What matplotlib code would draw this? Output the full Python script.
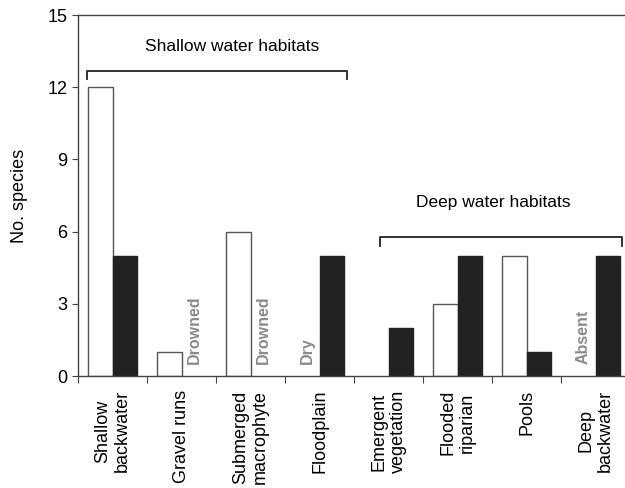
import matplotlib.pyplot as plt
import numpy as np

plt.rcParams['font.family'] = ['Liberation Sans', 'DejaVu Sans']

habitats = ["Shallow\nbackwater", "Gravel runs", "Submerged\nmacrophyte", "Floodplain",
            "Emergent\nvegetation", "Flooded\nriparian", "Pools", "Deep\nbackwater"]
white_vals = [12, 1, 6, 0, 0, 3, 5, 0]
black_vals = [5, 0, 0, 5, 2, 5, 1, 5]
# notes written where a bar is missing: (group index, which bar, text)
notes = [(1, "black", "Drowned"), (2, "black", "Drowned"), (3, "white", "Dry"), (7, "white", "Absent")]
yticks = [0, 3, 6, 9, 12, 15]

fig = plt.figure(figsize=(6.25, 4.88), dpi=100)
ax = fig.add_axes([0.125, 0.2295, 0.8832, 0.7395])

x = np.arange(len(habitats)) + 0.5
w = 0.36
wv = np.array(white_vals)
bv = np.array(black_vals)
ax.bar((x - w / 2)[wv > 0], wv[wv > 0], w, color="white", edgecolor="#555555", linewidth=1)
ax.bar((x + w / 2)[bv > 0], bv[bv > 0], w, color="#222222", edgecolor="#222222", linewidth=1)

for i, side, txt in notes:
    xx = x[i] - w / 2 if side == "white" else x[i] + w / 2
    ax.text(xx, 0.5, txt, rotation=90, ha="center", va="bottom",
            color="#8a8a8a", fontweight="bold", fontsize=11.5)

# group brackets
ax.plot([0.13, 0.13, 3.9, 3.9], [12.33, 12.67, 12.67, 12.33], color="#222222", lw=1.3, clip_on=False)
ax.text(2.23, 13.7, "Shallow water habitats", ha="center", va="center", fontsize=12.5)
ax.plot([4.38, 4.38, 7.88, 7.88], [5.42, 5.79, 5.79, 5.42], color="#222222", lw=1.3, clip_on=False)
ax.text(6.01, 7.2, "Deep water habitats", ha="center", va="center", fontsize=12.5)

ax.set_xlim(0, 8)
ax.set_ylim(0, 15)
ax.set_yticks(yticks)
ax.tick_params(axis="y", labelsize=13, length=4, direction="out", color="#444444")
ax.set_xticks(np.arange(0, 9))
ax.set_xticklabels([])
ax.tick_params(axis="x", which="major", length=5, direction="out", color="#444444")
ax.set_xticks(x, minor=True)
ax.set_xticklabels(habitats, minor=True, rotation=90, fontsize=13, va="top", ha="center")
ax.tick_params(axis="x", which="minor", length=0, pad=10)
for t in ax.get_xticklabels(minor=True):
    t.set_multialignment("center")

ax.set_ylabel("No. species", fontsize=13, labelpad=14)
ax.spines["right"].set_visible(False)
for s in ["left", "bottom", "top"]:
    ax.spines[s].set_color("#444444")
    ax.spines[s].set_linewidth(1)

fig.savefig("out.png", dpi=100)
